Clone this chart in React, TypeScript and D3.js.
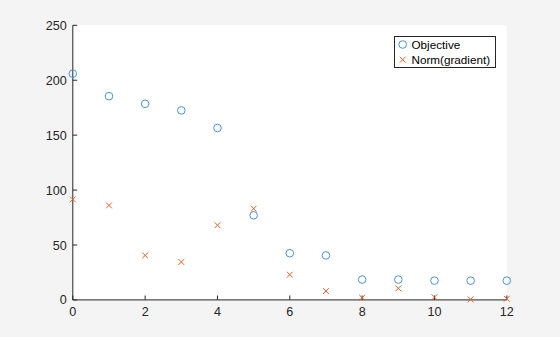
import { useEffect, useRef } from 'react'
import * as d3 from 'd3'

const iterations = [0, 1, 2, 3, 4, 5, 6, 7, 8, 9, 10, 11, 12]
const objective = [206, 185.5, 178.5, 172.5, 156.5, 77, 42.5, 40.5, 18.5, 18.5, 17.5, 17.5, 17.5]
const gradNorm = [91.5, 86, 40.5, 34.5, 68, 83, 23, 8, 2, 10.5, 2.5, 0.5, 1]
const xTicks = [0, 2, 4, 6, 8, 10, 12]
const yTicks = [0, 50, 100, 150, 200, 250]
const seriesNames = ['Objective', 'Norm(gradient)']

const W = 560
const H = 337
const BLUE = '#4a94d6'
const ORANGE = '#e0612a'
const AXIS = '#262626'
const FONT = 'Arial, "Liberation Sans", Helvetica, sans-serif'

export default function App() {
  const svgRef = useRef<SVGSVGElement>(null)

  useEffect(() => {
    document.body.style.margin = '0'
    if (!svgRef.current) return
    const svg = d3.select(svgRef.current)
    svg.selectAll('*').remove()

    const left = 72.8, right = 506.8, top = 25.3, bottom = 299.9
    const x = d3.scaleLinear().domain([0, 12]).range([left, right])
    const y = d3.scaleLinear().domain([0, 250]).range([bottom, top])

    svg.append('rect').attr('width', W).attr('height', H).attr('fill', '#f4f4f4')
    svg.append('rect')
      .attr('x', left).attr('y', top)
      .attr('width', right - left).attr('height', bottom - top)
      .attr('fill', '#ffffff')

    // axes (inward ticks, no box)
    const ax = svg.append('g').attr('stroke', AXIS).attr('stroke-width', 1)
    ax.append('line').attr('x1', left).attr('x2', left).attr('y1', top).attr('y2', bottom)
    ax.append('line').attr('x1', left).attr('x2', right).attr('y1', bottom).attr('y2', bottom)
    const tl = 4.4
    xTicks.forEach((t) => {
      ax.append('line').attr('x1', x(t)).attr('x2', x(t)).attr('y1', bottom).attr('y2', bottom - tl)
    })
    yTicks.forEach((t) => {
      ax.append('line').attr('x1', left).attr('x2', left + tl).attr('y1', y(t)).attr('y2', y(t))
    })

    svg.append('g').selectAll('text')
      .data(xTicks)
      .join('text')
      .attr('x', (d) => x(d))
      .attr('y', bottom + 16.5)
      .attr('text-anchor', 'middle')
      .attr('fill', AXIS)
      .attr('font-family', FONT)
      .attr('font-size', 12.6)
      .text((d) => d)

    svg.append('g').selectAll('text')
      .data(yTicks)
      .join('text')
      .attr('x', left - 6)
      .attr('y', (d) => y(d))
      .attr('dy', '0.36em')
      .attr('text-anchor', 'end')
      .attr('fill', AXIS)
      .attr('font-family', FONT)
      .attr('font-size', 12.6)
      .text((d) => d)

    const circle = (g: d3.Selection<SVGGElement, unknown, null, undefined>, cx: number, cy: number) =>
      g.append('circle').attr('cx', cx).attr('cy', cy).attr('r', 3.8)
        .attr('fill', 'none').attr('stroke', BLUE).attr('stroke-width', 1)
    const cross = (g: d3.Selection<SVGGElement, unknown, null, undefined>, cx: number, cy: number) => {
      const s = 2.9
      g.append('path')
        .attr('d', `M${cx - s},${cy - s}L${cx + s},${cy + s}M${cx - s},${cy + s}L${cx + s},${cy - s}`)
        .attr('stroke', ORANGE).attr('stroke-width', 1).attr('fill', 'none')
    }

    const marks = svg.append('g')
    iterations.forEach((it, i) => circle(marks, x(it), y(objective[i])))
    iterations.forEach((it, i) => cross(marks, x(it), y(gradNorm[i])))

    // legend
    const lg = svg.append('g')
    lg.append('rect')
      .attr('x', 394.5).attr('y', 36.5).attr('width', 101).attr('height', 31)
      .attr('fill', '#ffffff').attr('stroke', AXIS).attr('stroke-width', 1)
    circle(lg, 402.7, 44.5)
    cross(lg, 402.7, 59.7)
    seriesNames.forEach((name, i) => {
      lg.append('text')
        .attr('x', 411.5).attr('y', 44.5 + i * 15.2)
        .attr('dy', '0.36em')
        .attr('fill', '#000000')
        .attr('font-family', FONT)
        .attr('font-size', 11.7)
        .text(name)
    })
  }, [])

  return (
    <div style={{ position: 'fixed', left: 0, top: 0 }}>
      <svg ref={svgRef} width={W} height={H} style={{ display: 'block' }} />
    </div>
  )
}
